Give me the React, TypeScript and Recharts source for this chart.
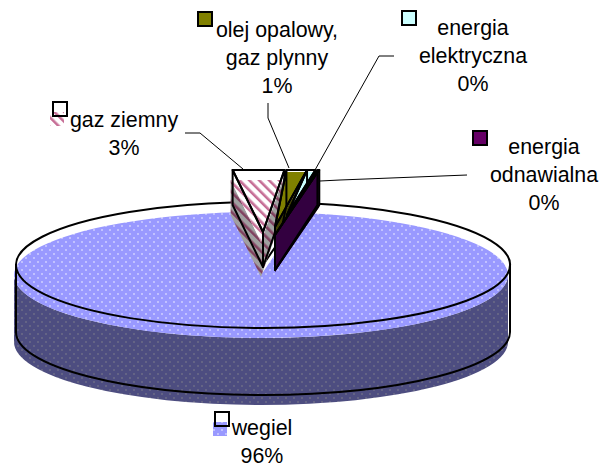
import { PieChart, Pie } from 'recharts';

const categories = ['wegiel', 'gaz ziemny', 'olej opalowy, gaz plynny', 'energia elektryczna', 'energia odnawialna'];
const shares = [95.6, 2.75, 1.1, 0.45, 0.1];
const data = categories.map((name, i) => ({ name, value: shares[i] }));

// first slice starts so the small ones end up fanned around 12 o'clock
const START_ANGLE = 440.16;
const END_ANGLE = 80.16;

const SQUASH = 0.255;
const DEPTH = 67;
const OUTLINE_DX = 2;
const OUTLINE_DY = -10;
const FAN = 1.215;
const FAN_TOP = 95;
const FAN_DEPTH = 35;

// how far each small wedge was pulled away from the pie (top face apex, relative to pie centre)
const fans: Record<string, any> = {
  'gaz ziemny': { ax: 0, ay: -33, dx: 1, fdx: -2, fdy: 10, top: 'url(#hatch)', side: 'url(#hatchDark)' },
  'olej opalowy, gaz plynny': { ax: 12, ay: -38, dx: 3, fdx: 0, fdy: 2, top: '#808000', side: '#404000' },
  'energia elektryczna': { ax: 24, ay: -50, dx: 3, fdx: 0, fdy: 2, top: '#CCFFFF', side: '#668080' },
  'energia odnawialna': { ax: 12, ay: -30, dx: 5, fdx: 0, fdy: 2, top: '#660066', side: '#330040' },
};

const labels = [
  { name: 'wegiel', lines: ['wegiel'], x: 262, y: 435, key: [215, 412], fill: 'url(#dots)', keyDx: -2, keyDy: 10, leader: '' },
  { name: 'gaz', lines: ['gaz ziemny'], x: 124, y: 127, key: [53, 102], fill: 'url(#hatch)', keyDx: -3, keyDy: 10, leader: 'M185 133H200L243 169' },
  { name: 'olej', lines: ['olej opalowy,', 'gaz plynny'], x: 277, y: 37, key: [198, 12], fill: '#808000', keyDx: 0, keyDy: 0, leader: 'M268 103V118L289 168' },
  { name: 'el', lines: ['energia', 'elektryczna'], x: 473, y: 35, key: [402, 11], fill: '#CCFFFF', keyDx: 0, keyDy: 0, leader: 'M394 56H379L315 170' },
  { name: 'odn', lines: ['energia', 'odnawialna'], x: 544, y: 154, key: [473, 131], fill: '#660066', keyDx: 0, keyDy: 0, leader: 'M467 175L340 180L320 181' },
];

const rad = (a: number) => (a * Math.PI) / 180;

function poly(pts: number[][]) {
  return 'M' + pts.map((p) => p.join(' ')).join('L') + 'Z';
}

function SliceShape(props: any) {
  const { cx, cy, outerRadius: r, startAngle, endAngle, name } = props;
  const ry = r * SQUASH;
  const fan = fans[name];

  if (!fan) {
    const sx = cx + r * Math.cos(rad(startAngle));
    const sy = cy - ry * Math.sin(rad(startAngle));
    const ex = cx + r * Math.cos(rad(endAngle));
    const ey = cy - ry * Math.sin(rad(endAngle));
    const sector = `M${cx} ${cy}L${sx} ${sy}A${r} ${ry} 0 1 1 ${ex} ${ey}Z`;
    const band = `M${cx - r} ${cy}A${r} ${ry} 0 0 0 ${cx + r} ${cy}V${cy + DEPTH}A${r} ${ry} 0 0 1 ${cx - r} ${cy + DEPTH}Z`;
    const wall = `M${cx - r} ${cy}V${cy + DEPTH}A${r} ${ry} 0 0 0 ${cx + r} ${cy + DEPTH}V${cy}`;
    return (
      <g>
        <path d={band} fill="url(#dotsDark)" />
        <path d={sector} fill="url(#dots)" />
        <g transform={`translate(${OUTLINE_DX} ${OUTLINE_DY})`} fill="none" stroke="#000" strokeWidth={2}>
          <path d={sector} />
          <path d={wall} />
        </g>
      </g>
    );
  }

  const x0 = cx + OUTLINE_DX;
  const y0 = cy + OUTLINE_DY;
  const top = y0 - FAN_TOP;
  const lx = x0 + fan.dx + r * FAN * Math.cos(rad(startAngle));
  const rx = x0 + fan.dx + r * FAN * Math.cos(rad(endAngle));
  const ax = x0 + fan.ax;
  const ay = y0 + fan.ay;
  const face = poly([[lx, top], [rx, top], [ax, ay]]);
  const left = poly([[lx, top], [lx, top + FAN_DEPTH], [ax, ay + FAN_DEPTH], [ax, ay]]);
  const right = poly([[rx, top], [rx, top + FAN_DEPTH], [ax, ay + FAN_DEPTH], [ax, ay]]);
  return (
    <g>
      <g transform={`translate(${fan.fdx} ${fan.fdy})`}>
        <path d={left} fill={fan.side} />
        <path d={right} fill={fan.side} />
        <path d={face} fill={fan.top} />
      </g>
      <g fill="none" stroke="#000" strokeWidth={2} strokeLinejoin="round">
        <path d={left} />
        <path d={right} />
        <path d={face} />
      </g>
    </g>
  );
}

function SliceLabel(props: any) {
  const { index, percent } = props;
  const l = labels[index];
  const size = 14;
  return (
    <g>
      {l.leader && <path d={l.leader} fill="none" stroke="#000" strokeWidth={1} />}
      <rect x={l.key[0] + l.keyDx} y={l.key[1] + l.keyDy} width={size} height={size} fill={l.fill} />
      <rect x={l.key[0]} y={l.key[1]} width={size} height={size} fill="none" stroke="#000" strokeWidth={2} />
      <text x={l.x} textAnchor="middle" fontFamily="'Liberation Sans', Arial, sans-serif" fontSize={21.4} fill="#000">
        {l.lines.map((t, i) => (
          <tspan key={i} x={l.x} y={l.y + i * 28}>{t}</tspan>
        ))}
        <tspan x={l.x} y={l.y + l.lines.length * 28}>{`${Math.round(percent * 100)}%`}</tspan>
      </text>
    </g>
  );
}

export default function App() {
  return (
    <div style={{ position: 'absolute', left: 0, top: 0, width: 603, height: 468, background: '#fff' }}>
      <PieChart width={603} height={468} margin={{ top: 0, right: 0, bottom: 0, left: 0 }}>
        <defs>
          <pattern id="dots" width={8} height={8} patternUnits="userSpaceOnUse">
            <rect width={8} height={8} fill="#9999FF" />
            <circle cx={2} cy={2} r={0.8} fill="#F4F4FF" />
            <circle cx={6} cy={6} r={0.8} fill="#F4F4FF" />
          </pattern>
          <pattern id="dotsDark" width={8} height={8} patternUnits="userSpaceOnUse">
            <rect width={8} height={8} fill="#4D4D80" />
            <circle cx={2} cy={2} r={0.8} fill="#80808C" />
            <circle cx={6} cy={6} r={0.8} fill="#80808C" />
          </pattern>
          <pattern id="hatch" width={7} height={7} patternUnits="userSpaceOnUse" patternTransform="rotate(-45)">
            <rect width={7} height={7} fill="#FFFFFF" />
            <rect width={2.6} height={7} fill="#C66E96" />
          </pattern>
          <pattern id="hatchDark" width={7} height={7} patternUnits="userSpaceOnUse" patternTransform="rotate(-45)">
            <rect width={7} height={7} fill="#A0A0A0" />
            <rect width={2.6} height={7} fill="#80405F" />
          </pattern>
        </defs>
        <Pie
          data={data}
          dataKey="value"
          nameKey="name"
          cx={261}
          cy={275}
          innerRadius={0}
          outerRadius={247}
          startAngle={START_ANGLE}
          endAngle={END_ANGLE}
          stroke="none"
          isAnimationActive={false}
          shape={SliceShape}
          label={SliceLabel}
          labelLine={false}
        />
      </PieChart>
    </div>
  );
}
